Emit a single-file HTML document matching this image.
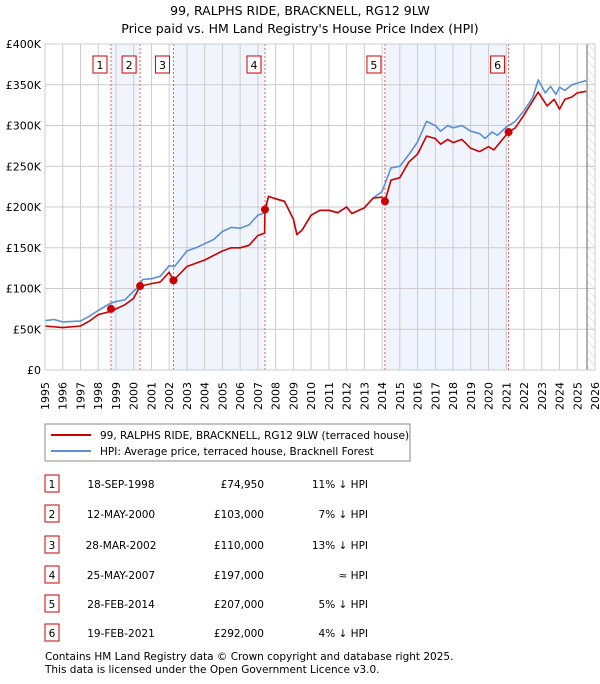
<!DOCTYPE html>
<html><head><meta charset="utf-8"><style>
body{margin:0;background:#fff;font-family:"DejaVu Sans","Liberation Sans",sans-serif;}
svg text{font-family:"DejaVu Sans","Liberation Sans",sans-serif;fill:#000;}
</style></head><body>
<svg id="c" width="600" height="680" xmlns="http://www.w3.org/2000/svg">
<defs><pattern id="hatch" width="6" height="6" patternUnits="userSpaceOnUse" patternTransform="rotate(-45)"><line x1="0" y1="0" x2="0" y2="6" stroke="#ccc" stroke-width="1"/></pattern></defs>
<text x="300" y="15" text-anchor="middle" font-size="12.5">99, RALPHS RIDE, BRACKNELL, RG12 9LW</text>
<text x="300" y="33" text-anchor="middle" font-size="12.5">Price paid vs. HM Land Registry's House Price Index (HPI)</text>
<g id="plot"></g>
<g>
<rect x="45" y="424" width="365" height="37" fill="#fff" stroke="#888"/>
<line x1="51" y1="435" x2="91" y2="435" stroke="#cc0000" stroke-width="2"/>
<text x="100" y="439" font-size="10.5">99, RALPHS RIDE, BRACKNELL, RG12 9LW (terraced house)</text>
<line x1="51" y1="451" x2="91" y2="451" stroke="#5b8fd6" stroke-width="2"/>
<text x="100" y="455" font-size="10.5">HPI: Average price, terraced house, Bracknell Forest</text>
</g>
<g id="table"></g>
<text x="45" y="660" font-size="10.5" fill="#333">Contains HM Land Registry data © Crown copyright and database right 2025.</text>
<text x="45" y="673" font-size="10.5" fill="#333">This data is licensed under the Open Government Licence v3.0.</text>
</svg>
<script>
const hpiYears=[1995,1995.5,1996,1997,1997.5,1998,1998.7,1999,1999.5,2000,2000.3,2000.5,2001,2001.5,2002,2002.3,2003,2003.5,2004,2004.5,2005,2005.5,2006,2006.5,2007,2007.4,2007.6,2008,2008.5,2009,2009.2,2009.5,2010,2010.5,2011,2011.5,2012,2012.3,2013,2013.5,2014,2014.5,2015,2015.5,2016,2016.5,2017,2017.3,2017.7,2018,2018.5,2019,2019.5,2019.8,2020.2,2020.5,2021,2021.5,2022,2022.5,2022.8,2023.2,2023.5,2023.8,2024,2024.3,2024.7,2025,2025.5];
const hpiValues=[60500,62000,59000,60000,66000,73000,82000,84000,86000,97000,102000,111000,112000,115000,128000,127000,146000,150000,155000,160000,170000,175000,174000,178000,190000,193000,213000,210000,207000,185000,166000,172000,190000,196000,196000,193000,200000,192000,199000,211000,219000,248000,250000,264000,280000,305000,300000,293000,300000,297000,300000,293000,290000,284000,292000,288000,298000,305000,318000,335000,356000,340000,348000,338000,347000,343000,350000,352000,355000];
const priceYears=[1995,1996,1997,1997.5,1998,1998.72,1999,1999.5,2000,2000.36,2001,2001.5,2002,2002.24,2003,2004,2005,2005.5,2006,2006.5,2007,2007.38,2007.4,2007.6,2008,2008.5,2009,2009.2,2009.5,2010,2010.5,2011,2011.5,2012,2012.3,2013,2013.5,2014,2014.16,2014.5,2015,2015.5,2016,2016.5,2017,2017.3,2017.7,2018,2018.5,2019,2019.5,2020,2020.3,2021.13,2021.5,2022,2022.8,2023.3,2023.7,2024,2024.3,2024.7,2025,2025.5];
const priceValues=[54000,52000,54000,60000,68000,72000,75000,80000,88000,103000,106000,108000,120000,110000,127000,135000,146000,150000,150000,153000,165000,168000,197000,213000,210000,207000,185000,166000,172000,190000,196000,196000,193000,200000,192000,199000,211000,212000,207000,233000,236000,255000,265000,287000,284000,277000,283000,279000,283000,272000,268000,274000,270000,292000,297000,313000,341000,324000,332000,320000,332000,335000,340000,342000];
const saleYears=[1998.72,2000.36,2002.24,2007.4,2014.16,2021.13];
const saleValues=[74950,103000,110000,197000,207000,292000];
const saleDates=["18-SEP-1998","12-MAY-2000","28-MAR-2002","25-MAY-2007","28-FEB-2014","19-FEB-2021"];
const salePrices=["£74,950","£103,000","£110,000","£197,000","£207,000","£292,000"];
const saleHpi=["11% ↓ HPI","7% ↓ HPI","13% ↓ HPI","≈ HPI","5% ↓ HPI","4% ↓ HPI"];
const yTicks=[0,50000,100000,150000,200000,250000,300000,350000,400000];
const yTickLabels=["£0","£50K","£100K","£150K","£200K","£250K","£300K","£350K","£400K"];
const xTicks=[1995,1996,1997,1998,1999,2000,2001,2002,2003,2004,2005,2006,2007,2008,2009,2010,2011,2012,2013,2014,2015,2016,2017,2018,2019,2020,2021,2022,2023,2024,2025,2026];

const NS="http://www.w3.org/2000/svg";
const L=45,R=595,T=44,B=370;
const xs=y=>L+(y-1995)/31*(R-L);
const ys=v=>B-v/400000*(B-T);
const g=document.getElementById('plot');
function mk(tag,attrs,parent){const e=document.createElementNS(NS,tag);for(const k in attrs)e.setAttribute(k,attrs[k]);(parent||g).appendChild(e);return e;}
const shadePairs=[[0,1],[2,3],[4,5]];
shadePairs.forEach(p=>{const r=mk('rect',{x:xs(saleYears[p[0]]),y:T,width:xs(saleYears[p[1]])-xs(saleYears[p[0]]),height:B-T,fill:'#f0f4fc'});

});
const hx=xs(2025.55);
const hr=mk('rect',{x:hx,y:T,width:R-hx,height:B-T,fill:'url(#hatch)'});


xTicks.forEach(t=>{const l=mk('line',{x1:xs(t),x2:xs(t),y1:T,y2:B,stroke:'#ccc'});


const x=xs(t)+4,y=382;
const tx=mk('text',{x:x,y:y,'text-anchor':'end','font-size':11,transform:'rotate(-90 '+x+' '+y+')'});tx.textContent=t;

});
yTicks.forEach((t,i)=>{const l=mk('line',{x1:L,x2:R,y1:ys(t),y2:ys(t),stroke:'#ccc'});


const tx=mk('text',{x:L-4,y:ys(t)+4,'text-anchor':'end','font-size':11});tx.textContent=yTickLabels[i];

});
const vl=mk('line',{x1:hx,x2:hx,y1:T,y2:B,stroke:'#666'});


saleYears.forEach((s,i)=>{const x=xs(s);
const l=mk('line',{x1:x,x2:x,y1:T,y2:B,stroke:'#e06060','stroke-dasharray':'2,2'});


const b=mk('rect',{x:x-18,y:56,width:14,height:17,fill:'#fff',stroke:'#cc0000'});


const t=mk('text',{x:x-11,y:69,'text-anchor':'middle','font-size':11});t.textContent=i+1;

});
function path(xa,va,c,name){const d=xa.map((x,i)=>(i?'L':'M')+xs(x).toFixed(1)+','+ys(va[i]).toFixed(1)).join('');
const p=mk('path',{d:d,fill:'none',stroke:c,'stroke-width':1.6,'stroke-linejoin':'round'});

}
path(hpiYears,hpiValues,'#5b8fd6','hpi-line');
path(priceYears,priceValues,'#cc0000','price-line');
saleYears.forEach((s,i)=>{const c=mk('circle',{cx:xs(s),cy:ys(saleValues[i]),r:4,fill:'#cc0000'});

});
const fr=mk('rect',{x:L,y:T,width:R-L,height:B-T,fill:'none',stroke:'#ccc'});


const tb=document.getElementById('table');
const rowY=[484,514,545,575,604,633];
saleDates.forEach((d,i)=>{const y=rowY[i];
const b=mk('rect',{x:45,y:y-9,width:14,height:17,fill:'#fff',stroke:'#cc0000'},tb);


const cells=[[52,'middle',String(i+1),'table-row-number'],[121,'middle',d,'table-date'],[264,'end',salePrices[i],'table-price'],[368,'end',saleHpi[i],'table-hpi-diff']];
cells.forEach(c=>{const t=mk('text',{x:c[0],y:y+4,'text-anchor':c[1],'font-size':10.5},tb);t.textContent=c[2];

});});
</script>
</body></html>
